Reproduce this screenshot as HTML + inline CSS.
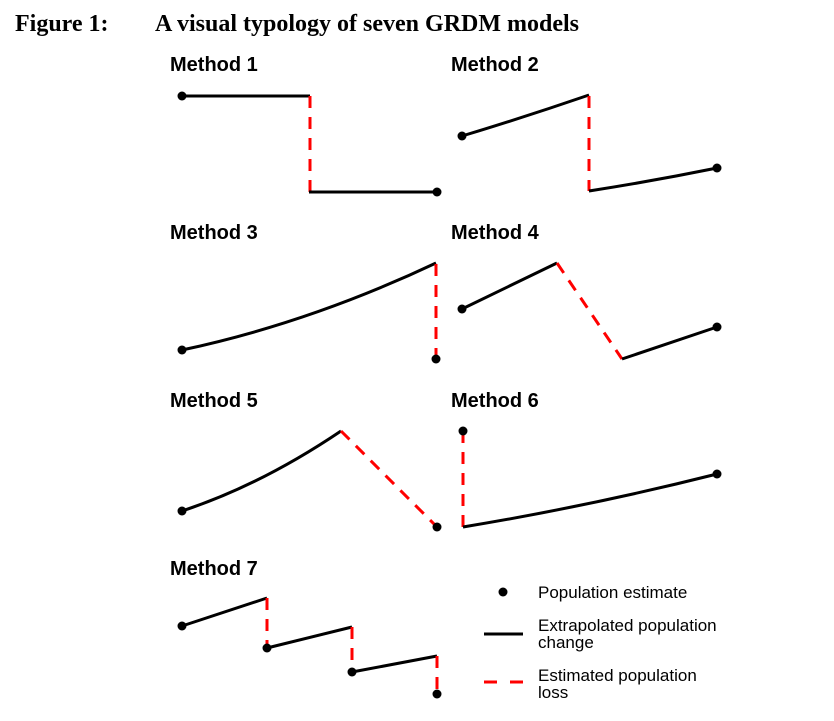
<!DOCTYPE html>
<html>
<head>
<meta charset="utf-8">
<style>
  html, body { margin: 0; padding: 0; background: #fff; }
  body { width: 834px; height: 721px; overflow: hidden; }
  svg { display: block; }
  .title { font-family: "Liberation Serif", serif; font-weight: bold; font-size: 24px; fill: #000; }
  .lab { font-family: "Liberation Sans", sans-serif; font-weight: bold; font-size: 20px; fill: #000; }
  .leg { font-family: "Liberation Sans", sans-serif; font-size: 17px; fill: #000; }
  .k { stroke: #000; stroke-width: 3; fill: none; stroke-linecap: butt; }
  .r { stroke: #ff0000; stroke-width: 3; fill: none; stroke-dasharray: 12 9; }
</style>
</head>
<body>
<svg width="834" height="721" viewBox="0 0 834 721" xmlns="http://www.w3.org/2000/svg">
  <text class="title" x="15" y="31">Figure 1:</text>
  <text class="title" x="155" y="31">A visual typology of seven GRDM models</text>

  <!-- Method 1 -->
  <text class="lab" x="170" y="71">Method 1</text>
  <line class="k" x1="182" y1="96" x2="310" y2="96"/>
  <line class="r" x1="310" y1="96" x2="310" y2="192"/>
  <line class="k" x1="309" y1="192" x2="437" y2="192"/>
  <circle cx="182" cy="96" r="4.5"/>
  <circle cx="437" cy="192" r="4.5"/>

  <!-- Method 2 -->
  <text class="lab" x="451" y="71">Method 2</text>
  <path class="k" d="M462 136 Q525 117 589 95"/>
  <line class="r" x1="589" y1="96" x2="589" y2="191"/>
  <path class="k" d="M589 191 Q653 181 717 168"/>
  <circle cx="462" cy="136" r="4.5"/>
  <circle cx="717" cy="168" r="4.5"/>

  <!-- Method 3 -->
  <text class="lab" x="170" y="239">Method 3</text>
  <path class="k" d="M182 350 Q309 323 436 263"/>
  <line class="r" x1="436" y1="264" x2="436" y2="359"/>
  <circle cx="182" cy="350" r="4.5"/>
  <circle cx="436" cy="359" r="4.5"/>

  <!-- Method 4 -->
  <text class="lab" x="451" y="239">Method 4</text>
  <line class="k" x1="462" y1="309" x2="557" y2="263"/>
  <line class="r" x1="557" y1="263" x2="622" y2="359"/>
  <line class="k" x1="622" y1="359" x2="717" y2="327"/>
  <circle cx="462" cy="309" r="4.5"/>
  <circle cx="717" cy="327" r="4.5"/>

  <!-- Method 5 -->
  <text class="lab" x="170" y="407">Method 5</text>
  <path class="k" d="M182 511 Q261 485 341 431"/>
  <line class="r" x1="341" y1="431" x2="437" y2="527"/>
  <circle cx="182" cy="511" r="4.5"/>
  <circle cx="437" cy="527" r="4.5"/>

  <!-- Method 6 -->
  <text class="lab" x="451" y="407">Method 6</text>
  <line class="r" x1="463" y1="431" x2="463" y2="527"/>
  <path class="k" d="M463 527 Q590 506 717 474"/>
  <circle cx="463" cy="431" r="4.5"/>
  <circle cx="717" cy="474" r="4.5"/>

  <!-- Method 7 -->
  <text class="lab" x="170" y="575">Method 7</text>
  <line class="k" x1="182" y1="626" x2="267" y2="598"/>
  <line class="r" x1="267" y1="598" x2="267" y2="648" stroke-dasharray="14 12"/>
  <line class="k" x1="267" y1="648" x2="352" y2="627"/>
  <line class="r" x1="352" y1="627" x2="352" y2="672" stroke-dasharray="14 12"/>
  <line class="k" x1="352" y1="672" x2="437" y2="656"/>
  <line class="r" x1="437" y1="656" x2="437" y2="694" stroke-dasharray="14 12"/>
  <circle cx="182" cy="626" r="4.5"/>
  <circle cx="267" cy="648" r="4.5"/>
  <circle cx="352" cy="672" r="4.5"/>
  <circle cx="437" cy="694" r="4.5"/>

  <!-- Legend -->
  <circle cx="503" cy="592" r="4.5"/>
  <text class="leg" x="538" y="598">Population estimate</text>
  <line class="k" x1="484" y1="634" x2="523" y2="634"/>
  <text class="leg" x="538" y="631">Extrapolated population</text>
  <text class="leg" x="538" y="648">change</text>
  <line x1="484" y1="682" x2="497" y2="682" stroke="#ff0000" stroke-width="3"/>
  <line x1="510" y1="682" x2="523" y2="682" stroke="#ff0000" stroke-width="3"/>
  <text class="leg" x="538" y="681">Estimated population</text>
  <text class="leg" x="538" y="698">loss</text>
</svg>
</body>
</html>
